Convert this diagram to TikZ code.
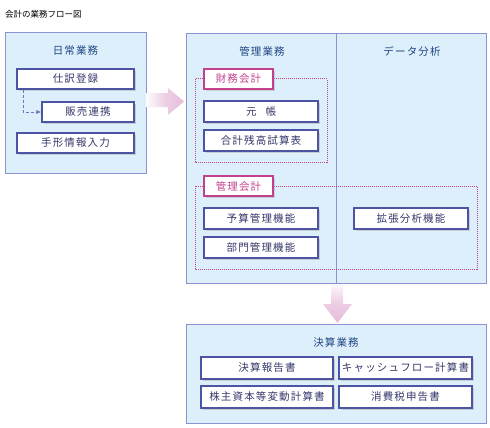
\documentclass[tikz,border=0pt]{standalone}
\usepackage{fontspec}
\newfontfamily\jpbox[LetterSpace=11]{Noto Sans CJK JP}
\newfontfamily\jpplain{Noto Sans CJK JP}
\usetikzlibrary{shadows,arrows.meta}
\definecolor{panelfill}{HTML}{DDEFFA}
\definecolor{panelline}{HTML}{8C93CF}
\definecolor{boxline}{HTML}{4E54A4}
\definecolor{boxtext}{HTML}{35386A}
\definecolor{titletext}{HTML}{1F4585}
\definecolor{pinkline}{HTML}{C2418F}
\definecolor{pinkarrow}{HTML}{E6BCDA}
\begin{document}
\begin{tikzpicture}[x=1pt,y=1pt,
  panel/.style={draw=panelline, fill=panelfill, line width=1pt},
  itembox/.style={draw=boxline, fill=white, line width=1.1pt,
    drop shadow={shadow xshift=1.6pt, shadow yshift=-1.6pt, fill=black!28, opacity=0.6},
    minimum height=20pt, inner sep=0pt, text=boxtext,
    font=\jpbox\fontsize{10.5}{12}\selectfont},
  labelbox/.style={draw=pinkline, fill=white, line width=1.1pt,
    drop shadow={shadow xshift=1.6pt, shadow yshift=-1.6pt, fill=black!28, opacity=0.6},
    minimum width=69pt, minimum height=20pt, inner sep=0pt, text=pinkline,
    font=\jpbox\fontsize{10.5}{12}\selectfont},
  grouptitle/.style={text=titletext, inner sep=0pt, font=\jpbox\fontsize{10.5}{12}\selectfont},
  groupframe/.style={draw=pinkline, line width=1pt, dash pattern=on 1pt off 1pt},
  linkline/.style={draw=boxline!80, line width=0.8pt, densely dashed}
]
\useasboundingbox (0,0) rectangle (490,-428);
\fill[white] (0,0) rectangle (490,-428);

% page title
\node[anchor=west, inner sep=0pt, text=black, font=\jpplain\fontsize{8.5}{10}\selectfont] (pagetitle) at (5,-14) {会計の業務フロー図};

% panels
\draw[panel] (5,-33) rectangle (146,-173);
\draw[panel] (186,-34) rectangle (486,-283);
\draw[panelline, line width=1pt] (336,-34) -- (336,-283);
\draw[panel] (186,-324) rectangle (486,-423);

% panel titles
\node[grouptitle] (nichijo) at (75.5,-51) {日常業務};
\node[grouptitle] (kanrigyomu) at (262,-51) {管理業務};
\node[grouptitle] (data) at (412,-51) {データ分析};
\node[grouptitle] (kessangyomu) at (336,-342) {決算業務};

% left panel boxes
\node[itembox, minimum width=117pt] (shiwake) at (75.5,-79) {仕訳登録};
\node[itembox, minimum width=92pt] (hanbai) at (88,-112) {販売連携};
\node[itembox, minimum width=117pt] (tegata) at (75.5,-143) {手形情報入力};
\coordinate (bend) at (23,-112);
\draw[linkline, -{Latex[length=5pt,width=4pt]}] (shiwake.south -| bend) -- (bend) -- (hanbai.west);

% dotted groups
\draw[groupframe] (195,-79) rectangle (327,-162);
\draw[groupframe] (195,-186) rectangle (477,-269);
\node[labelbox] (zaimu) at (238.5,-79) {財務会計};
\node[labelbox] (kanrikaikei) at (238.5,-186) {管理会計};

% right panel boxes
\node[itembox, minimum width=114pt, minimum height=21pt] (motocho) at (261,-111.5) {元\hspace{9pt}帳};
\node[itembox, minimum width=114pt, minimum height=21pt] (goukei) at (261,-140.5) {合計残高試算表};
\node[itembox, minimum width=114pt, minimum height=21pt] (yosan) at (261,-218.5) {予算管理機能};
\node[itembox, minimum width=114pt, minimum height=21pt] (bumon) at (261,-247.5) {部門管理機能};
\node[itembox, minimum width=114pt, minimum height=21pt] (kakucho) at (411,-218.5) {拡張分析機能};

% bottom panel boxes
\node[itembox, minimum width=132pt, minimum height=22pt] (houkoku) at (267,-368) {決算報告書};
\node[itembox, minimum width=133pt, minimum height=22pt] (cf) at (405.5,-368) {キャッシュフロー計算書};
\node[itembox, minimum width=132pt, minimum height=22pt] (kabunushi) at (267,-397) {株主資本等変動計算書};
\node[itembox, minimum width=133pt, minimum height=22pt] (shohizei) at (405.5,-397) {消費税申告書};

% big arrows
\shade[left color=pinkarrow!5, right color=pinkarrow, middle color=pinkarrow!70]
  (146,-93) -- (168,-93) -- (168,-88) -- (184,-101.5) -- (168,-115) -- (168,-107) -- (146,-107) -- cycle;
\shade[top color=pinkarrow!10, bottom color=pinkarrow, middle color=pinkarrow!75]
  (331,-284) -- (343,-284) -- (343,-304) -- (352,-304) -- (337.5,-323) -- (323,-304) -- (331,-304) -- cycle;
\end{tikzpicture}
\end{document}
